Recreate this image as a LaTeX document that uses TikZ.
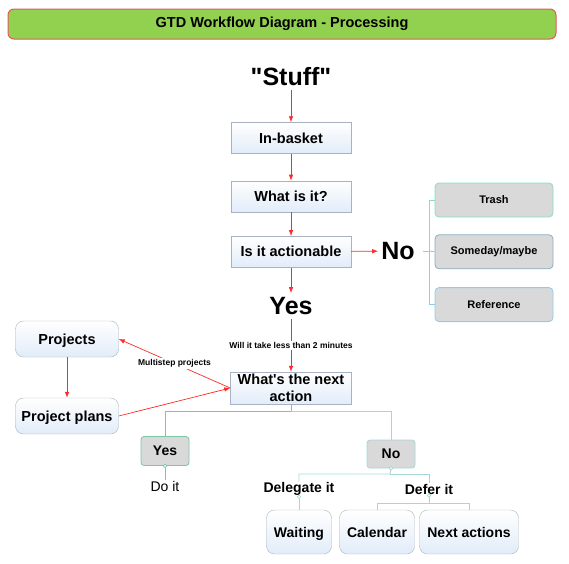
\documentclass[tikz,border=0pt]{standalone}
\usepackage{fontspec}
\setmainfont{Liberation Sans}
\usetikzlibrary{arrows.meta, positioning}

\definecolor{titlegreen}{HTML}{92D050}
\definecolor{titlered}{HTML}{E05A5A}
\definecolor{arrred}{HTML}{FF2A2A}
\definecolor{boxline}{HTML}{A9B2C2}
\definecolor{boxfill}{HTML}{E1ECF9}
\definecolor{grayfill}{HTML}{D9D9D9}
\definecolor{mint}{HTML}{86DDC4}
\definecolor{skyline}{HTML}{92CBEA}
\definecolor{slateline}{HTML}{88AEBE}
\definecolor{leafgreen}{HTML}{7AC7A2}
\definecolor{paleteal}{HTML}{A6D6D6}

\begin{document}
\begin{tikzpicture}[
    x=1pt, y=-1pt,
    flowbox/.style={rectangle, draw=boxline, top color=white, bottom color=boxfill,
                    minimum width=120pt, minimum height=31pt, inner sep=1pt, align=center,
                    font=\fontsize{14.5}{17}\selectfont\bfseries},
    roundbox/.style={flowbox, rounded corners=8pt, text height=12pt, text depth=2pt},
    leafbox/.style={roundbox, minimum height=44pt,
                    font=\fontsize{14}{17}\selectfont\bfseries},
    sidebox/.style={rectangle, rounded corners=4pt, fill=grayfill, line width=0.8pt,
                    minimum width=118pt, minimum height=34pt,
                    font=\fontsize{11}{13}\selectfont\bfseries},
    choicebox/.style={rectangle, rounded corners=3pt, fill=grayfill, line width=0.8pt,
                      minimum width=48pt, minimum height=29pt,
                      font=\fontsize{14}{17}\selectfont\bfseries},
    bigword/.style={inner sep=4pt, font=\fontsize{25}{30}\selectfont\bfseries},
    branchword/.style={inner sep=1pt, font=\fontsize{14}{17}\selectfont\bfseries},
    smalllabel/.style={fill=white, text=black, inner sep=1.5pt,
                       font=\fontsize{8.5}{10}\selectfont\bfseries},
    arr/.style={-{Latex[length=6pt, width=4.5pt]}, arrred, line width=0.7pt},
    leafline/.style={draw=leafgreen, line width=0.9pt},
    tealline/.style={draw=paleteal, line width=0.9pt},
    knot/.style={circle, draw=paleteal, fill=white, line width=0.6pt,
                 inner sep=0pt, minimum size=3.5pt}
]
\useasboundingbox (0,0) rectangle (569,563);

% Title bar
\node[rectangle, rounded corners=6pt, draw=titlered, fill=titlegreen, line width=1pt,
      minimum width=548pt, minimum height=30pt,
      font=\fontsize{14.5}{17}\selectfont\bfseries] (title) at (282,24)
      {GTD Workflow Diagram - Processing};

% Main column
\node[bigword] (stuff) at (291,77) {\textquotedbl Stuff\textquotedbl};
\node[flowbox] (inbasket) at (291,138) {In-basket};
\node[flowbox, below=27pt of inbasket] (whatis) {What is it?};
\node[flowbox, below=24pt of whatis] (actionable) {Is it actionable};
\node[bigword] (yes) at (291,306) {Yes};
\node[flowbox, minimum width=121pt, minimum height=32pt] (next) at (291,388)
      {What\textquotesingle s the next\\action};

% Not actionable
\node[bigword, inner sep=3pt] (no) at (398,251) {No};
\node[sidebox, draw=mint] (trash) at (494,200) {Trash};
\node[sidebox, draw=slateline, below=17pt of trash] (someday) {Someday/maybe};
\node[sidebox, draw=skyline, below=18pt of someday] (reference) {Reference};

% Projects
\node[roundbox, minimum width=103pt, minimum height=36pt] (projects) at (67,339) {Projects};
\node[roundbox, minimum width=103pt, minimum height=36pt] (plans) at (67,416) {Project plans};

% Next action outcomes
\node[choicebox, draw=leafgreen] (yesbox) at (165,451) {Yes};
\node[choicebox, draw=paleteal, minimum height=28pt] (nobox) at (391,454) {No};
\node[inner sep=1pt, font=\fontsize{14}{17}\selectfont] (doit) at (165,486) {Do it};
\node[branchword] (delegate) at (299,489) {Delegate it};
\node[branchword] (defer) at (429,489) {Defer it};
\node[leafbox, minimum width=65pt] (waiting) at (299,532) {Waiting};
\node[leafbox, minimum width=75pt] (calendar) at (377,532) {Calendar};
\node[leafbox, minimum width=99pt] (nextacts) at (469,532) {Next actions};

% Knots
\node[knot, draw=leafgreen] (yesknot) at (yesbox.south) {};
\node[knot] (noknot) at (nobox.south) {};
\node[knot] (delegknot) at (delegate.south) {};
\node[knot] (deferknot) at (defer.south) {};

% Red arrows
\draw[arr] (stuff) -- (inbasket);
\draw[arr] (inbasket) -- (whatis);
\draw[arr] (whatis) -- (actionable);
\draw[arr] (actionable) -- (no);
\draw[arr] (actionable) -- (yes);
\draw[arr] (yes) -- node[smalllabel] {Will it take less than 2 minutes} (next);
\draw[arr] (next.west) -- node[smalllabel] {Multistep projects} (projects.east);
\draw[arr] (projects) -- (plans);
\draw[arr] (plans.east) -- (next.west);

% No branches
\coordinate (nofork) at (429,251);
\draw[draw=skyline, line width=0.9pt, shorten <=5pt] (no.east) -- (nofork);
\draw[draw=mint, line width=0.9pt] (nofork) |- (trash.west);
\draw[draw=skyline, line width=0.9pt] (nofork) -- (someday.west);
\draw[draw=skyline, line width=0.9pt] (nofork) |- (reference.west);

% Next action tree
\coordinate (nextfork) at (291,411);
\draw[leafline] (next.south) -- (nextfork) -| (yesbox.north);
\draw[tealline] (nextfork) -| (nobox.north);
\draw[leafline] (yesknot) -- (doit);

\coordinate (nosplit) at (390,474);
\draw[tealline] (noknot) -- (nosplit) -| (delegate.north);
\draw[tealline] (nosplit) -| (defer.north);
\draw[tealline] (delegknot) -- (waiting);

\coordinate (defersplit) at (429,503);
\draw[tealline] (deferknot) -- (defersplit) -| (calendar.north);
\draw[tealline] (defersplit) -| (nextacts.north);
\end{tikzpicture}
\end{document}
